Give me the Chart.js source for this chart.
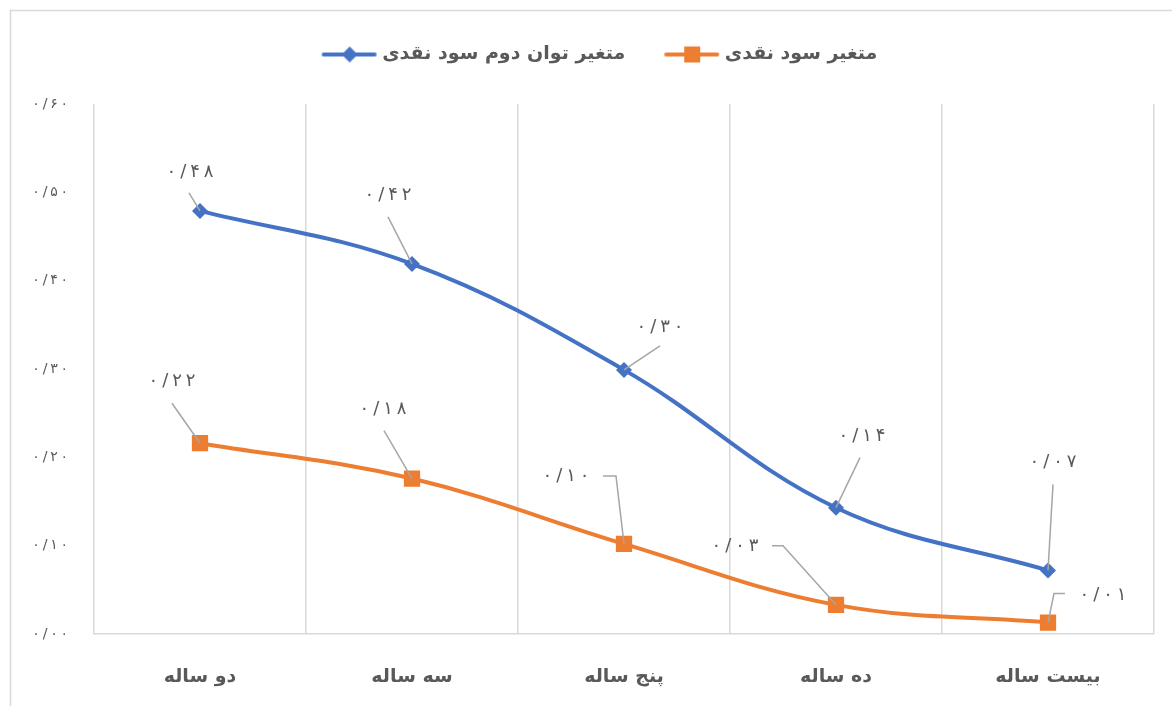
<!DOCTYPE html>
<html>
<head>
<meta charset="utf-8">
<script src="https://cdn.jsdelivr.net/npm/chart.js@4.4.1/dist/chart.umd.min.js"></script>
<style>
  html, body { margin: 0; background: #fff; }
</style>
</head>
<body>
<canvas id="chart" width="1172" height="706"></canvas>
<script>
// داده‌ها
const categories     = ['دو ساله', 'سه ساله', 'پنج ساله', 'ده ساله', 'بیست ساله']
const seriesNames    = ['متغیر توان دوم سود نقدی', 'متغیر سود نقدی']
const squaredValues  = [0.479, 0.419, 0.299, 0.143, 0.072]
const dividendValues = [0.216, 0.176, 0.102, 0.033, 0.013]
const yMin = 0, yMax = 0.6, yStep = 0.1

const BLUE   = '#4472C4'
const ORANGE = '#ED7D31'
const TEXT   = '#595959'
const FONT   = "'DejaVu Sans', sans-serif"

// جای برچسب‌ها و خط راهنما نسبت به نقطه (پیکسل)
const labelOffsets = [
  [[-10, -39], [-24, -69], [36, -43], [26, -71], [5, -108]],
  [[-28, -62], [-29, -69], [-58, -68], [-101, -59], [55, -27]],
]
const leaderPaths = [
  [[[-11, -18]], [[-24, -47]], [[36, -24]], [[24, -50]], [[5, -86]]],
  [[[-28, -40]], [[-28, -48]], [[-21, -68], [-8, -68]], [[-64, -59], [-53, -59]], [[17, -29], [6, -29]]],
]

const faDigits = s => String(s).replace(/\d/g, d => '۰۱۲۳۴۵۶۷۸۹'[d]).replace('.', '/')
const fmt = v => faDigits(v.toFixed(2))
const spaced = s => [...s].join('\u2009')

// آیکن راهنما: خط + نشانگر (کمی به راست تا به متن نزدیک‌تر شود)
function legendIcon(color, style) {
  const c = document.createElement('canvas')
  c.width = 60; c.height = 20
  const g = c.getContext('2d')
  g.strokeStyle = color; g.lineWidth = 4; g.lineCap = 'round'
  g.beginPath(); g.moveTo(6, 10); g.lineTo(57, 10); g.stroke()
  g.fillStyle = color
  g.beginPath()
  if (style === 'rect') g.rect(24, 2, 16, 16)
  else { g.moveTo(32, 2); g.lineTo(40, 10); g.lineTo(32, 18); g.lineTo(24, 10); g.closePath() }
  g.fill()
  return c
}
const icons = [legendIcon(BLUE, 'rectRot'), legendIcon(ORANGE, 'rect')]

const frame = {
  id: 'frame',
  afterLayout(chart) {
    // راهنما کمی به راست، مثل نمودار اصلی
    chart.legend.left += 23
    chart.legend.right += 23
  },
  beforeDraw(chart) {
    const ctx = chart.ctx
    ctx.save()
    ctx.strokeStyle = '#d9d9d9'
    ctx.lineWidth = 1.5
    ctx.strokeRect(10.5, 10.5, 1400, 900)
    ctx.restore()
  },
}

// متن با فاصله حروف، حرف به حرف
function drawSpaced(ctx, text, cx, cy, gap) {
  const chars = [...text]
  const widths = chars.map(ch => ctx.measureText(ch).width)
  const total = widths.reduce((a, b) => a + b, 0) + gap * (chars.length - 1)
  let x = cx - total / 2
  ctx.textAlign = 'left'
  chars.forEach((ch, i) => {
    ctx.fillText(ch, x, cy)
    x += widths[i] + gap
  })
}

const dataLabels = {
  id: 'dataLabels',
  afterDatasetsDraw(chart) {
    const ctx = chart.ctx
    ctx.save()
    chart.data.datasets.forEach((ds, di) => {
      const meta = chart.getDatasetMeta(di)
      meta.data.forEach((pt, i) => {
        const path = leaderPaths[di][i]
        ctx.strokeStyle = '#a6a6a6'
        ctx.lineWidth = 1.5
        ctx.beginPath()
        ctx.moveTo(pt.x + path[0][0], pt.y + path[0][1])
        for (const p of path.slice(1)) ctx.lineTo(pt.x + p[0], pt.y + p[1])
        ctx.lineTo(pt.x, pt.y)
        ctx.stroke()
        const [dx, dy] = labelOffsets[di][i]
        ctx.font = `18px ${FONT}`
        ctx.fillStyle = TEXT
        ctx.textBaseline = 'middle'
        drawSpaced(ctx, fmt(ds.data[i]), pt.x + dx, pt.y + dy, 4)
      })
    })
    ctx.restore()
  },
}

new Chart(document.getElementById('chart'), {
  type: 'line',
  data: {
    labels: categories,
    datasets: [
      {
        label: seriesNames[0],
        data: squaredValues,
        borderColor: BLUE,
        backgroundColor: BLUE,
        borderWidth: 4,
        tension: 0.38,
        pointStyle: 'rectRot',
        pointRadius: 8,
        pointHoverRadius: 8,
        pointBorderWidth: 0,
      },
      {
        label: seriesNames[1],
        data: dividendValues,
        borderColor: ORANGE,
        backgroundColor: ORANGE,
        borderWidth: 4,
        tension: 0.38,
        pointStyle: 'rect',
        pointRadius: 11.5,
        pointHoverRadius: 11.5,
        pointBorderWidth: 0,
      },
    ],
  },
  options: {
    responsive: false,
    animation: false,
    devicePixelRatio: 1,
    layout: { padding: { top: 5, right: 18, left: 0, bottom: 0 } },
    plugins: {
      tooltip: { enabled: false },
      title: {
        display: true,
        text: ' ',
        weight: 500,
        font: { size: 1, lineHeight: 1 },
        padding: { top: 0, bottom: 29 },
      },
      legend: {
        position: 'top',
        labels: {
          usePointStyle: true,
          pointStyleWidth: 50,
          padding: 40,
          color: TEXT,
          font: { family: FONT, size: 19, weight: 'bold' },
          generateLabels: chart => chart.data.datasets.map((ds, i) => ({
            text: ds.label,
            pointStyle: icons[i],
            fontColor: TEXT,
            lineWidth: 0,
            datasetIndex: i,
          })),
        },
      },
    },
    scales: {
      x: {
        offset: true,
        grid: { offset: true, color: '#d9d9d9', lineWidth: 1.5, drawTicks: false },
        border: { color: '#d9d9d9', width: 1.5 },
        ticks: {
          color: TEXT,
          padding: 32,
          font: { family: FONT, size: 19, weight: 'bold' },
        },
        afterFit: s => { s.height = 72 },
      },
      y: {
        min: yMin,
        max: yMax,
        grid: { display: false, drawTicks: false },
        border: { display: false },
        ticks: {
          stepSize: yStep,
          color: TEXT,
          padding: 26,
          font: { family: FONT, size: 14 },
          callback: v => spaced(fmt(v)),
        },
        afterFit: s => { s.width = 94 },
      },
    },
  },
  plugins: [frame, dataLabels],
})
</script>
</body>
</html>
